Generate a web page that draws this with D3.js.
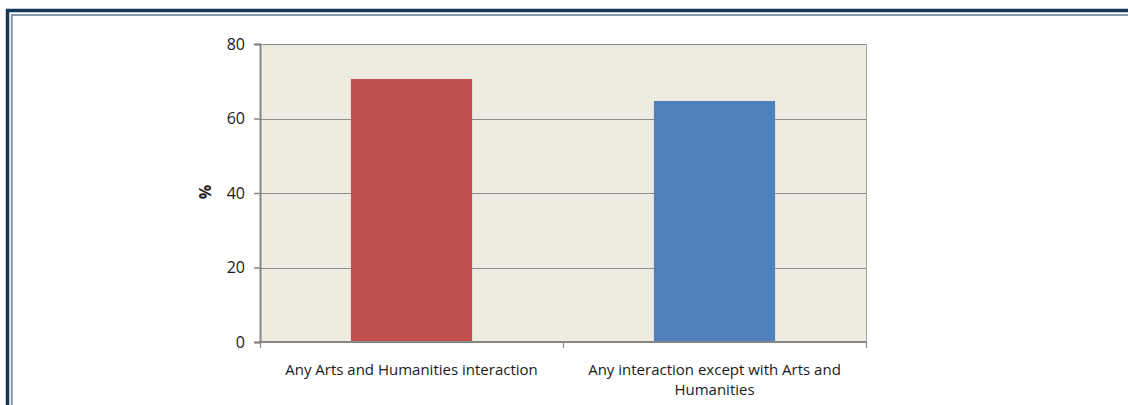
<!DOCTYPE html>
<html>
<head>
<meta charset="utf-8">
<script src="https://cdn.jsdelivr.net/npm/d3@7"></script>
<style>
  html, body { margin: 0; padding: 0; background: #ffffff; }
  svg { display: block; }
  text { font-family: "Open Sans", "Lato", sans-serif; fill: #1a1a1a; }
</style>
</head>
<body>
<svg id="chart" width="1128" height="405"></svg>
<script>
// Categories, shares (%) and axis ticks
const categories = ["Any Arts and Humanities interaction", "Any interaction except with Arts and Humanities"];
const categoryLines = [["Any Arts and Humanities interaction"], ["Any interaction except with Arts and", "Humanities"]];
const values = [70.6, 64.7];
const barColors = ["#c0504d", "#4f81bd"];
const yTicks = [0, 20, 40, 60, 80];
const yLabel = "%";

const svg = d3.select("#chart");
const W = 1128, H = 405;

// Double frame around the chart
svg.append("rect").attr("x", 7.5).attr("y", 10.5).attr("width", W + 20).attr("height", H + 20)
  .attr("fill", "none").attr("stroke", "#17365d").attr("stroke-width", 3.5);
svg.append("rect").attr("x", 11.75).attr("y", 15).attr("width", W + 20).attr("height", H + 20)
  .attr("fill", "none").attr("stroke", "#7f8ea8").attr("stroke-width", 1.8);

const plot = { left: 260, right: 866, top: 44, bottom: 342 };

const x = d3.scaleBand().domain(categories).range([plot.left, plot.right]).paddingInner(0.6).paddingOuter(0.3);
const xBand = d3.scaleBand().domain(categories).range([plot.left, plot.right]);
const y = d3.scaleLinear().domain([0, 80]).range([plot.bottom, plot.top]);

// Plot background
svg.append("rect").attr("x", plot.left).attr("y", plot.top)
  .attr("width", plot.right - plot.left).attr("height", plot.bottom - plot.top)
  .attr("fill", "#eeebe0");

// Horizontal gridlines
svg.append("g").selectAll("line").data(yTicks.filter(d => d > 0)).join("line")
  .attr("x1", plot.left).attr("x2", plot.right)
  .attr("y1", d => Math.round(y(d)) + 0.5).attr("y2", d => Math.round(y(d)) + 0.5)
  .attr("stroke", "#8c8c8c").attr("stroke-width", 1.2);

// Right edge of plot area
svg.append("line").attr("x1", plot.right + 0.5).attr("x2", plot.right + 0.5)
  .attr("y1", plot.top).attr("y2", plot.bottom)
  .attr("stroke", "#a6a6a6").attr("stroke-width", 1);

// Bars
svg.append("g").selectAll("rect").data(categories).join("rect")
  .attr("x", d => x(d)).attr("width", x.bandwidth())
  .attr("y", (d, i) => y(values[i])).attr("height", (d, i) => y(0) - y(values[i]))
  .attr("fill", (d, i) => barColors[i]);

// Y axis
const yAxis = svg.append("g").attr("transform", `translate(${plot.left},0)`)
  .call(d3.axisLeft(y).tickValues(yTicks).tickSize(6).tickPadding(9));
yAxis.select(".domain").attr("stroke", "#868686").attr("stroke-width", 2);
yAxis.selectAll(".tick line").attr("stroke", "#868686").attr("stroke-width", 1.5);
yAxis.selectAll(".tick text").style("font-size", "16px").attr("fill", "#1a1a1a")
  .style("font-family", "'Open Sans', sans-serif");

// X axis with ticks at category boundaries
const xAxisG = svg.append("g");
xAxisG.append("line").attr("x1", plot.left - 1).attr("x2", plot.right + 1)
  .attr("y1", plot.bottom).attr("y2", plot.bottom)
  .attr("stroke", "#868686").attr("stroke-width", 2);
const boundaries = [plot.left].concat(categories.map(c => xBand(c) + xBand.bandwidth()));
xAxisG.selectAll("line.tk").data(boundaries).join("line").attr("class", "tk")
  .attr("x1", d => d + 0.5).attr("x2", d => d + 0.5)
  .attr("y1", plot.bottom).attr("y2", plot.bottom + 6)
  .attr("stroke", "#868686").attr("stroke-width", 1.2);

// Category labels
const lbl = svg.append("g").selectAll("text").data(categories).join("text")
  .attr("text-anchor", "middle")
  .attr("transform", d => `translate(${xBand(d) + xBand.bandwidth() / 2},${plot.bottom + 33})`)
  .style("font-size", "15px");
lbl.selectAll("tspan").data((d, i) => categoryLines[i]).join("tspan")
  .attr("x", 0).attr("dy", (d, j) => j === 0 ? 0 : 20).text(d => d);

// Y axis title
svg.append("text").attr("transform", "translate(211,192) rotate(-90)")
  .attr("text-anchor", "middle").style("font-size", "16px").style("font-weight", "bold")
  .text(yLabel);
</script>
</body>
</html>
